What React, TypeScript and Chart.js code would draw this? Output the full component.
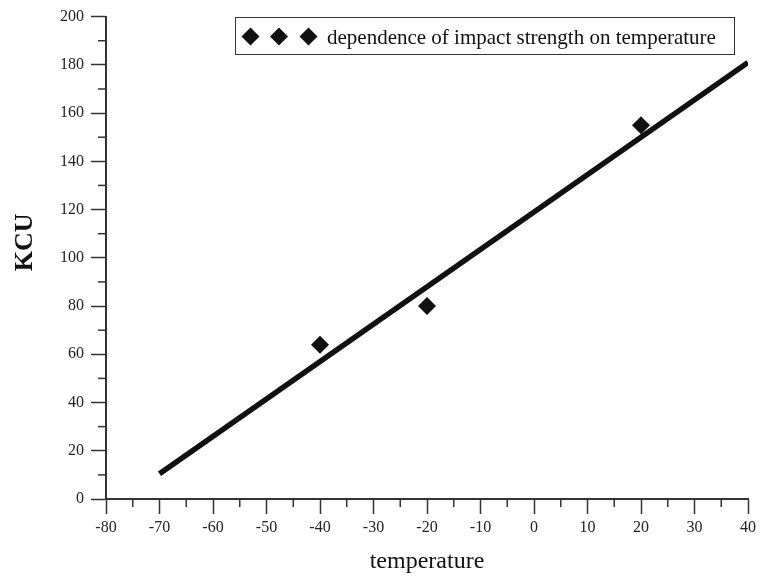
import React, { useEffect, useRef } from "react";
import { Chart, registerables } from "chart.js";

Chart.register(...registerables);

const tempPoints = [-40, -20, 20];
const kcuPoints = [64, 80, 155];
const fitTemps = [-70, 40];
const fitKcu = [10.5, 181];
const xTickMin = -80;
const xTickMax = 40;
const yTickMin = 0;
const yTickMax = 200;
const legendLabel = "dependence of impact strength on temperature";
const xTitle = "temperature";
const yTitle = "KCU";

const SERIF = "'Liberation Serif', 'DejaVu Serif', serif";

const decorPlugin = {
  id: "decor",
  afterDraw(chart: any) {
    const ctx = chart.ctx;
    const xs = chart.scales.x;
    const ys = chart.scales.y;
    const area = chart.chartArea;
    ctx.save();
    // minor ticks
    ctx.strokeStyle = "#333";
    ctx.lineWidth = 1.5;
    for (let v = xTickMin + 5; v < xTickMax; v += 10) {
      const px = xs.getPixelForValue(v);
      ctx.beginPath();
      ctx.moveTo(px, area.bottom);
      ctx.lineTo(px, area.bottom + 8);
      ctx.stroke();
    }
    for (let v = yTickMin + 10; v < yTickMax; v += 20) {
      const py = ys.getPixelForValue(v);
      ctx.beginPath();
      ctx.moveTo(area.left - 8, py);
      ctx.lineTo(area.left, py);
      ctx.stroke();
    }
    // y title
    ctx.fillStyle = "#111";
    ctx.font = `bold 26px ${SERIF}`;
    ctx.textAlign = "center";
    ctx.textBaseline = "alphabetic";
    ctx.translate(32, (area.top + area.bottom) / 2 - 15.5);
    ctx.rotate(-Math.PI / 2);
    ctx.fillText(yTitle, 0, 0);
    ctx.restore();

    // legend box
    ctx.save();
    const bx = 235.5, by = 17.5, bw = 499, bh = 37;
    ctx.strokeStyle = "#333";
    ctx.lineWidth = 1;
    ctx.fillStyle = "#fff";
    ctx.fillRect(bx, by, bw, bh);
    ctx.strokeRect(bx, by, bw, bh);
    ctx.fillStyle = "#111";
    const cy = 36.5;
    [250.5, 279, 308.5].forEach((cx) => {
      const r = 9;
      ctx.beginPath();
      ctx.moveTo(cx, cy - r);
      ctx.lineTo(cx + r, cy);
      ctx.lineTo(cx, cy + r);
      ctx.lineTo(cx - r, cy);
      ctx.closePath();
      ctx.fill();
    });
    ctx.font = `21px ${SERIF}`;
    ctx.textAlign = "left";
    ctx.textBaseline = "alphabetic";
    ctx.fillText(legendLabel, 327, 44);
    ctx.restore();
  },
};

export default function App() {
  const ref = useRef<HTMLCanvasElement | null>(null);
  useEffect(() => {
    document.body.style.margin = "0";
    const canvas = ref.current;
    if (!canvas) return;
    const chart = new Chart(canvas, {
      type: "scatter",
      data: {
        datasets: [
          {
            label: "fit",
            data: fitTemps.map((t, i) => ({ x: t, y: fitKcu[i] })),
            showLine: true,
            borderColor: "#111",
            borderWidth: 5.5,
            pointRadius: 0,
            borderCapStyle: "butt",
          },
          {
            label: legendLabel,
            data: tempPoints.map((t, i) => ({ x: t, y: kcuPoints[i] })),
            pointStyle: "rectRot",
            pointRadius: 9,
            pointBackgroundColor: "#111",
            pointBorderWidth: 0,
            backgroundColor: "#111",
            borderColor: "#111",
          },
        ],
      },
      options: {
        responsive: false,
        animation: false,
        layout: { padding: { top: 16, right: 19, left: 0, bottom: 0 } },
        plugins: {
          legend: { display: false },
          tooltip: { enabled: false },
        },
        scales: {
          x: {
            type: "linear",
            min: xTickMin,
            max: xTickMax,
            ticks: {
              stepSize: 10,
              color: "#222",
              font: { family: SERIF, size: 16 },
              padding: 4,
              maxRotation: 0,
            },
            grid: {
              drawOnChartArea: false,
              drawTicks: true,
              tickLength: 15,
              tickColor: "#333",
              tickWidth: 1.5,
            },
            border: { display: true, color: "#333", width: 2 },
            title: {
              display: true,
              text: xTitle,
              color: "#111",
              font: { family: SERIF, size: 24 },
              padding: { top: 0, bottom: 4.5 },
            },
            afterFit(scale: any) {
              scale.height = 82;
            },
          },
          y: {
            type: "linear",
            min: yTickMin,
            max: yTickMax,
            ticks: {
              stepSize: 20,
              color: "#222",
              font: { family: SERIF, size: 16 },
              padding: 7,
            },
            grid: {
              drawOnChartArea: false,
              drawTicks: true,
              tickLength: 15,
              tickColor: "#333",
              tickWidth: 1.5,
            },
            border: { display: true, color: "#333", width: 2 },
            afterFit(scale: any) {
              scale.width = 106;
            },
          },
        },
      },
      plugins: [decorPlugin],
    } as any);
    return () => chart.destroy();
  }, []);
  return (
    <div style={{ width: 767, height: 581 }}>
      <canvas ref={ref} width={767} height={581} />
    </div>
  );
}
